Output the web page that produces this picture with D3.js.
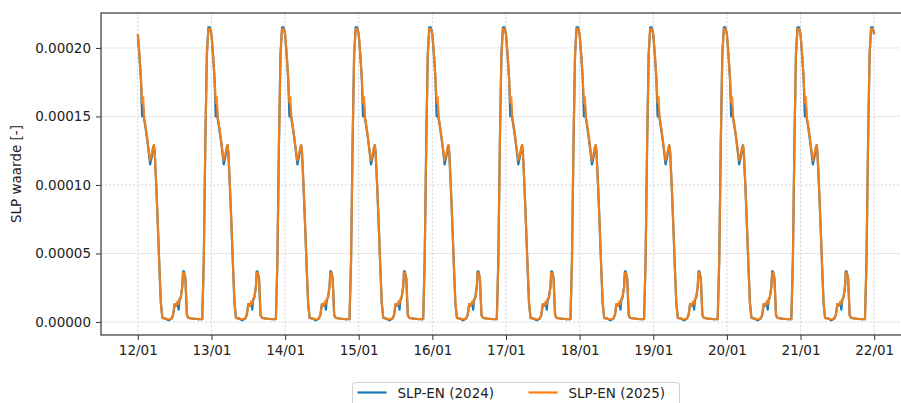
<!DOCTYPE html>
<html>
<head>
<meta charset="utf-8">
<script src="https://cdn.jsdelivr.net/npm/d3@7"></script>
<style>
  body { margin: 0; background: #fff; }
  text { font-family: "DejaVu Sans", sans-serif; fill: #222; }
</style>
</head>
<body>
<svg id="chart" width="901" height="403"></svg>
<script>
// days shown (same profile repeats every day)
const days = ["2025-01-12", "2025-01-13", "2025-01-14", "2025-01-15", "2025-01-16",
              "2025-01-17", "2025-01-18", "2025-01-19", "2025-01-20", "2025-01-21"]
const lastDay = "2025-01-22"

// hour of day of each profile point
const hours = [0, 0.5, 1.0, 1.4, 1.75, 2.0, 2.5, 3.0, 3.5, 4.0, 4.5, 5.0, 5.25, 5.5,
               6.0, 6.5, 7.0, 7.5, 8.0, 9.0, 10.0, 11.0, 11.5, 12.0, 12.5, 13.0, 13.3,
               13.6, 14.0, 14.5, 14.75, 15.0, 15.5, 16.0, 16.5, 18.0, 20.0, 21.0, 21.5,
               22.0, 22.5, 23.0, 23.5]

// daily profile values (x 1e-6)
const slp2024 = [210, 195, 178, 150, 157, 149, 142, 134, 125, 115, 120, 127, 129, 124,
                 100, 72, 42, 14, 3, 2.5, 1.2, 2.5, 5, 13, 12, 14, 9,
                 16, 18, 26, 37, 37, 32, 5, 3, 2.5, 2, 2, 45,
                 130, 195, 215, 215]
const slp2025 = [210, 196, 178, 160, 164, 150, 143, 135, 126, 118, 122, 128, 129, 124,
                 100, 72, 42, 14, 3, 2.5, 2, 2.5, 5, 13, 12, 15, 13,
                 17, 18, 26, 36, 36, 32, 5, 3, 2.5, 2, 2, 45,
                 130, 195, 214, 214]

const yTicks = [0, 0.00005, 0.0001, 0.00015, 0.0002]

const svg = d3.select("#chart")
const mLeft = 101, mTop = 13, mRight = 911, mBottom = 335

const parse = d3.timeParse("%Y-%m-%d")
const t0 = parse(days[0]), tEnd = parse(lastDay)

function buildSeries(vals) {
  const pts = []
  days.forEach(function (d) {
    const base = parse(d)
    hours.forEach(function (h, i) {
      pts.push({ t: new Date(base.getTime() + h * 3600e3), v: vals[i] * 1e-6 })
    })
  })
  pts.push({ t: tEnd, v: vals[0] * 1e-6 })
  return pts
}
const s2024 = buildSeries(slp2024)
const s2025 = buildSeries(slp2025)

const span = tEnd - t0
const xScale = d3.scaleTime()
  .domain([new Date(t0.getTime() - span * 0.05), new Date(tEnd.getTime() + span * 0.05)])
  .range([mLeft, mRight])
const yScale = d3.scaleLinear()
  .domain([-0.0000095, 0.0002255])
  .range([mBottom, mTop])

const xTicks = days.map(parse).concat([tEnd])

// grid
const grid = svg.append("g")
grid.selectAll(".gx").data(xTicks).join("line")
  .attr("x1", d => xScale(d)).attr("x2", d => xScale(d))
  .attr("y1", mTop).attr("y2", mBottom)
  .attr("stroke", "#cfcfcf").attr("stroke-width", 0.8).attr("stroke-dasharray", "2.5,1.5")
grid.selectAll(".gy").data(yTicks).join("line")
  .attr("x1", mLeft).attr("x2", mRight)
  .attr("y1", d => yScale(d)).attr("y2", d => yScale(d))
  .attr("stroke", "#cfcfcf").attr("stroke-width", 0.8).attr("stroke-dasharray", "2.5,1.5")

// lines
const line = d3.line().x(d => xScale(d.t)).y(d => yScale(d.v))
svg.append("path").datum(s2024).attr("d", line)
  .attr("fill", "none").attr("stroke", "#1f77b4").attr("stroke-width", 2.2)
  .attr("stroke-linejoin", "round")
svg.append("path").datum(s2025).attr("d", line)
  .attr("fill", "none").attr("stroke", "#ff7f0e").attr("stroke-width", 2.2)
  .attr("stroke-linejoin", "round").attr("opacity", 0.9)

// axes
const xAxis = svg.append("g")
  .attr("transform", "translate(0," + mBottom + ")")
  .call(d3.axisBottom(xScale).tickValues(xTicks).tickFormat(d3.timeFormat("%d/%m"))
    .tickSize(5).tickPadding(5).tickSizeOuter(0))
const yAxis = svg.append("g")
  .attr("transform", "translate(" + mLeft + ",0)")
  .call(d3.axisLeft(yScale).tickValues(yTicks).tickFormat(d3.format(".5f"))
    .tickSize(5).tickPadding(5).tickSizeOuter(0))
;[xAxis, yAxis].forEach(function (a) {
  a.select(".domain").remove()
  a.selectAll(".tick line").attr("stroke", "#333").attr("stroke-width", 1)
  a.selectAll(".tick text").attr("font-size", "13.5px").attr("fill", "#222")
    .attr("font-family", "DejaVu Sans, sans-serif")
})

// frame
svg.append("rect").attr("x", mLeft).attr("y", mTop)
  .attr("width", mRight - mLeft).attr("height", mBottom - mTop)
  .attr("fill", "none").attr("stroke", "#444").attr("stroke-width", 1.3)

svg.append("text")
  .attr("transform", "translate(21," + (mTop + mBottom) / 2 + ") rotate(-90)")
  .attr("text-anchor", "middle").attr("font-size", "13.5px")
  .text("SLP waarde [-]")

// legend
const lg = svg.append("g").attr("transform", "translate(352.5,382.5)")
lg.append("rect").attr("width", 327).attr("height", 36).attr("rx", 3)
  .attr("fill", "#fff").attr("stroke", "#d0d0d0").attr("stroke-width", 1)
const items = [["SLP-EN (2024)", "#1f77b4", 5], ["SLP-EN (2025)", "#ff7f0e", 176]]
items.forEach(function (it) {
  lg.append("line").attr("x1", it[2]).attr("x2", it[2] + 29).attr("y1", 10).attr("y2", 10)
    .attr("stroke", it[1]).attr("stroke-width", 2.2)
  lg.append("text").attr("x", it[2] + 40).attr("y", 15).attr("font-size", "13.5px").text(it[0])
})
</script>
</body>
</html>
